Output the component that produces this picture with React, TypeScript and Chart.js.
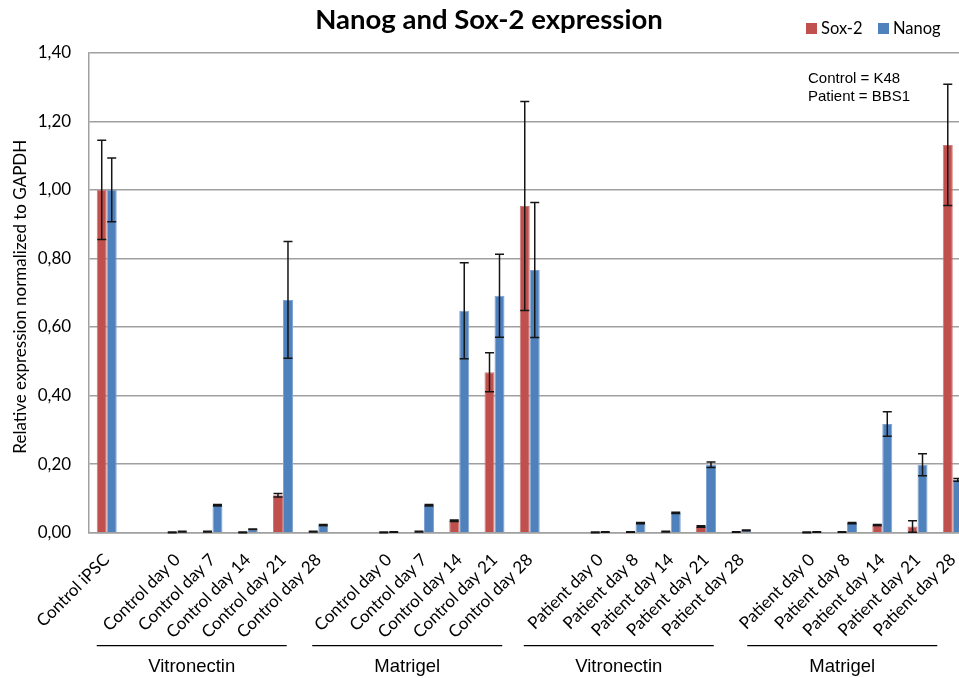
import React, { useEffect, useRef } from "react";
import { Chart, registerables } from "chart.js";
Chart.register(...registerables);

const categories = [
  "Control iPSC", "",
  "Control day 0", "Control day 7", "Control day 14", "Control day 21", "Control day 28", "",
  "Control day 0", "Control day 7", "Control day 14", "Control day 21", "Control day 28", "",
  "Patient day 0", "Patient day 8", "Patient day 14", "Patient day 21", "Patient day 28", "",
  "Patient day 0", "Patient day 8", "Patient day 14", "Patient day 21", "Patient day 28",
];

const sox2Values = [
  1.0, null,
  0.001, 0.003, 0.001, 0.109, 0.003, null,
  0.001, 0.003, 0.035, 0.468, 0.953, null,
  0.001, 0.002, 0.003, 0.018, 0.002, null,
  0.001, 0.002, 0.022, 0.018, 1.131,
];
const sox2Errors = [
  0.145, null,
  0.001, 0.001, 0.001, 0.005, 0.001, null,
  0.001, 0.001, 0.002, 0.057, 0.305, null,
  0.001, 0.001, 0.001, 0.002, 0.001, null,
  0.001, 0.001, 0.002, 0.017, 0.177,
];
const nanogValues = [
  1.0, null,
  0.003, 0.08, 0.01, 0.679, 0.022, null,
  0.002, 0.08, 0.647, 0.691, 0.766, null,
  0.002, 0.028, 0.058, 0.198, 0.007, null,
  0.002, 0.028, 0.317, 0.198, 0.154,
];
const nanogErrors = [
  0.093, null,
  0.001, 0.002, 0.001, 0.17, 0.002, null,
  0.001, 0.002, 0.14, 0.121, 0.197, null,
  0.001, 0.002, 0.002, 0.008, 0.001, null,
  0.001, 0.002, 0.036, 0.032, 0.004,
];

const seriesNames = ["Sox-2", "Nanog"];
const seriesColors = ["#C0504D", "#4F81BD"];
const seriesBorders = ["#CF7B78", "#7FA3D2"];

const yMin = 0;
const yMax = 1.4;
const yStep = 0.2;

const titleText = "Nanog and Sox-2 expression";
const yAxisTitle = "Relative expression normalized to GAPDH";
const noteLines = ["Control = K48", "Patient = BBS1"];

const groupLabels = ["Vitronectin", "Matrigel", "Vitronectin", "Matrigel"];
const groupStart = [2, 8, 14, 20];
const groupEnd = [6, 12, 18, 24];

const errorBarPlugin = {
  id: "errorBars",
  afterDatasetsDraw(chart: any) {
    const ctx = chart.ctx;
    const y = chart.scales.y;
    chart.data.datasets.forEach((ds: any, i: number) => {
      const meta = chart.getDatasetMeta(i);
      meta.data.forEach((bar: any, j: number) => {
        const v = ds.data[j];
        const e = ds.errors[j];
        if (v == null || e == null) return;
        const yTop = y.getPixelForValue(v + e);
        const yBot = y.getPixelForValue(v - e);
        ctx.save();
        ctx.strokeStyle = "#151515";
        ctx.lineWidth = 1.5;
        ctx.beginPath();
        ctx.moveTo(bar.x, yTop);
        ctx.lineTo(bar.x, yBot);
        ctx.moveTo(bar.x - 4.5, yTop);
        ctx.lineTo(bar.x + 4.5, yTop);
        ctx.moveTo(bar.x - 4.5, yBot);
        ctx.lineTo(bar.x + 4.5, yBot);
        ctx.stroke();
        ctx.restore();
      });
    });
  },
};

const decorPlugin = {
  id: "decor",
  afterDraw(chart: any) {
    const ctx = chart.ctx;
    const x = chart.scales.x;
    const area = chart.chartArea;
    ctx.save();
    // Title
    ctx.fillStyle = "#000";
    ctx.font = "bold 27.5px Lato";
    ctx.textAlign = "center";
    ctx.textBaseline = "alphabetic";
    ctx.fillText(titleText, 489, 29);

    // Legend
    ctx.font = "16.5px Lato";
    ctx.textAlign = "left";
    const legX = [806, 878];
    seriesNames.forEach((n, i) => {
      ctx.fillStyle = seriesColors[i];
      ctx.fillRect(legX[i], 23, 11, 11);
      ctx.fillStyle = "#000";
      ctx.fillText(n, legX[i] + 15, 34);
    });

    // Note
    ctx.font = "15px 'Liberation Sans'";
    ctx.fillStyle = "#000";
    noteLines.forEach((t, i) => ctx.fillText(t, 808, 83 + i * 18));

    // Y axis title
    ctx.save();
    ctx.translate(21, (area.top + area.bottom) / 2 + 4);
    ctx.rotate(-Math.PI / 2);
    ctx.textAlign = "center";
    ctx.textBaseline = "middle";
    ctx.font = "17px Lato";
    ctx.fillText(yAxisTitle, 0, 0);
    ctx.restore();

    // Groups
    const offsets = [-56, -52, -52, -40];
    ctx.font = "18.5px 'Liberation Sans'";
    ctx.textAlign = "center";
    ctx.strokeStyle = "#000";
    ctx.lineWidth = 1.3;
    groupLabels.forEach((g, i) => {
      const c = (x.getPixelForValue(groupStart[i]) + x.getPixelForValue(groupEnd[i])) / 2 + offsets[i];
      ctx.beginPath();
      ctx.moveTo(c - 95, 645.7);
      ctx.lineTo(c + 95, 645.7);
      ctx.stroke();
      ctx.fillText(g, c, 672);
    });
    ctx.restore();
  },
};

export default function App() {
  const ref = useRef<HTMLCanvasElement | null>(null);
  useEffect(() => {
    document.body.style.margin = "0";
    document.body.style.overflow = "hidden";
    const chart = new Chart(ref.current as HTMLCanvasElement, {
      type: "bar",
      data: {
        labels: categories,
        datasets: [
          {
            label: seriesNames[0],
            data: sox2Values,
            errors: sox2Errors,
            backgroundColor: seriesColors[0],
            borderColor: seriesBorders[0],
            borderWidth: 1,
            categoryPercentage: 0.567,
            barPercentage: 1,
          } as any,
          {
            label: seriesNames[1],
            data: nanogValues,
            errors: nanogErrors,
            backgroundColor: seriesColors[1],
            borderColor: seriesBorders[1],
            borderWidth: 1,
            categoryPercentage: 0.567,
            barPercentage: 1,
          } as any,
        ],
      },
      options: {
        animation: false,
        responsive: true,
        maintainAspectRatio: false,
        layout: { padding: { top: 52.7, right: 9.6, left: 0, bottom: 0 } },
        plugins: {
          legend: { display: false },
          title: { display: false },
          tooltip: { enabled: false },
        },
        scales: {
          x: {
            grid: { display: false },
            border: { display: true, color: "#A0A0A0", width: 1.5 },
            ticks: {
              autoSkip: false,
              maxRotation: 45,
              minRotation: 45,
              padding: 9,
              color: "#000",
              font: { family: "Lato", size: 17 },
            },
            afterFit(scale: any) {
              scale.height = 145.3;
            },
          },
          y: {
            min: yMin,
            max: yMax,
            ticks: {
              stepSize: yStep,
              padding: 18,
              color: "#000",
              font: { family: "Lato", size: 17 },
              callback: (v: any) => Number(v).toFixed(2).replace(".", ","),
            },
            grid: { color: "#A0A0A0", lineWidth: 1.5, drawTicks: false },
            border: { display: true, color: "#A0A0A0", width: 1.5 },
            afterFit(scale: any) {
              scale.width = 89.1;
            },
          },
        },
      },
      plugins: [errorBarPlugin, decorPlugin],
    });
    return () => chart.destroy();
  }, []);
  return (
    <div style={{ position: "fixed", left: 0, top: 0, width: 959, height: 678, overflow: "hidden", background: "#fff" }}>
      <div style={{ position: "relative", width: 980, height: 678 }}>
        <canvas ref={ref} />
      </div>
    </div>
  );
}
